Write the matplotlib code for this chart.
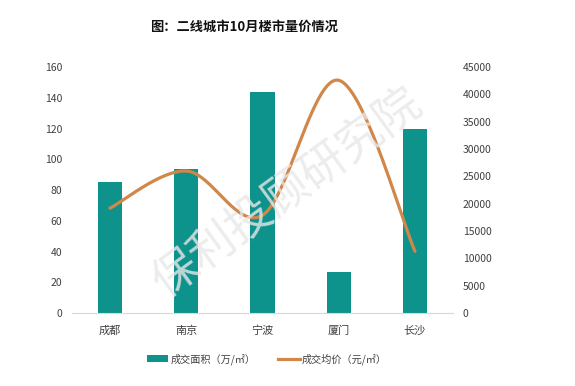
import matplotlib
matplotlib.use("Agg")
import matplotlib.pyplot as plt
from matplotlib.patches import Patch
from matplotlib.lines import Line2D
import numpy as np

plt.rcParams["font.family"] = ["Noto Sans CJK SC", "DejaVu Sans"]

# ---- data -----------------------------------------------------------------
cities = ["成都", "南京", "宁波", "厦门", "长沙"]
area = [85, 94, 144, 27, 120]                      # 成交面积（万/㎡）
price = [19200, 26000, 17900, 42600, 11300]        # 成交均价（元/㎡）
left_ticks = [0, 20, 40, 60, 80, 100, 120, 140, 160]
right_ticks = [0, 5000, 10000, 15000, 20000, 25000, 30000, 35000, 40000, 45000]

BAR = "#0E928C"
LINE = "#D0874A"
TXT = "#404040"


def smooth(xs, ys, n=40):
    """Excel-like smoothed line: Catmull-Rom as cubic Bezier segments."""
    xs = np.asarray(xs, float)
    ys = np.asarray(ys, float)
    px = np.concatenate([[xs[0]], xs, [xs[-1]]])
    py = np.concatenate([[ys[0]], ys, [ys[-1]]])
    outx, outy = [], []
    t = np.linspace(0, 1, n)
    for i in range(1, len(px) - 2):
        p0 = np.array([px[i], py[i]])
        p3 = np.array([px[i + 1], py[i + 1]])
        c1 = p0 + (np.array([px[i + 1], py[i + 1]]) - np.array([px[i - 1], py[i - 1]])) / 6
        c2 = p3 - (np.array([px[i + 2], py[i + 2]]) - np.array([px[i], py[i]])) / 6
        b = (np.outer((1 - t) ** 3, p0) + np.outer(3 * (1 - t) ** 2 * t, c1)
             + np.outer(3 * (1 - t) * t ** 2, c2) + np.outer(t ** 3, p3))
        outx.extend(b[:, 0])
        outy.extend(b[:, 1])
    return outx, outy


fig = plt.figure(figsize=(5.75, 3.86), dpi=100, facecolor="white")
ax = fig.add_axes([0.125, 0.189, 0.663, 0.637])
ax2 = ax.twinx()

x = np.arange(len(cities))
ax.bar(x, area, width=0.32, color=BAR, zorder=2)
ax.set_xlim(-0.5, len(cities) - 0.5)
ax.set_ylim(0, 160)
ax.set_yticks(left_ticks)
ax.set_xticks(x)
ax.set_xticklabels(cities, fontsize=8, color=TXT)

sx, sy = smooth(x, price)
ax2.plot(sx, sy, color=LINE, lw=2.3, solid_capstyle="round", zorder=3)
ax2.set_ylim(0, 45000)
ax2.set_yticks(right_ticks)

for a in (ax, ax2):
    for s in a.spines.values():
        s.set_visible(False)
    a.tick_params(axis="y", length=0, labelsize=7.5, labelcolor=TXT, pad=7)
ax.tick_params(axis="x", length=0, pad=9)
ax.spines["bottom"].set_visible(True)
ax.spines["bottom"].set_color("#D9D9D9")
ax.spines["bottom"].set_linewidth(0.8)

# title
fig.text(0.425, 0.93, "图：二线城市10月楼市量价情况", ha="center", va="center",
         fontsize=9.5, fontweight="bold", color="#111111")

# watermark
fig.text(0.50, 0.50, "保利投顾研究院", ha="center", va="center",
         fontsize=33, color="#E8E8E8", rotation=36, alpha=0.8, zorder=0)

# legend
handles = [Patch(facecolor=BAR, edgecolor="none"),
           Line2D([0], [0], color=LINE, lw=2.3)]
fig.legend(handles, ["成交面积（万/㎡）", "成交均价（元/㎡）"],
           loc="center", bbox_to_anchor=(0.464, 0.07), ncol=2, frameon=False,
           fontsize=7.3, handlelength=2.1, handleheight=0.6, handletextpad=0.2,
           columnspacing=2.3, labelcolor=TXT)

fig.savefig("out.png", dpi=100, facecolor="white")
